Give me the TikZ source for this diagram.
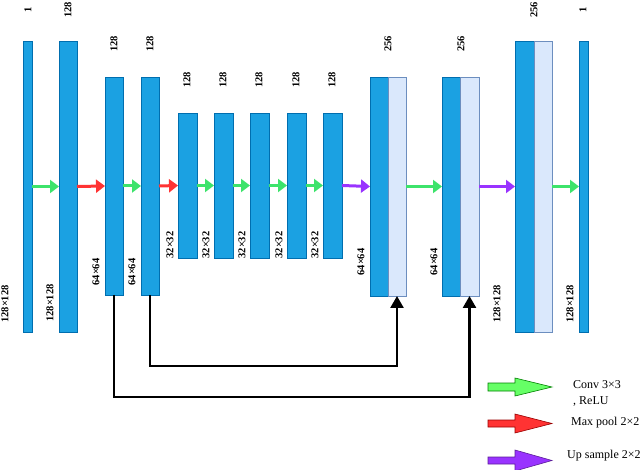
\documentclass[tikz,border=0pt]{standalone}
\usepackage{fontspec}
\setmainfont{Liberation Serif}
\usetikzlibrary{arrows.meta}
\definecolor{barblue}{HTML}{1BA1E2}
\definecolor{barline}{HTML}{006EAF}
\definecolor{lightfill}{HTML}{DAE8FC}
\definecolor{lightline}{HTML}{6C8EBF}
\definecolor{convgreen}{HTML}{3DE36B}
\definecolor{poolred}{HTML}{FF3333}
\definecolor{uppurple}{HTML}{9933FF}
\definecolor{lgreen}{HTML}{66FF66}
\begin{document}
\begin{tikzpicture}[x=1pt,y=-1pt,
  bar/.style={draw=barline,fill=barblue,line width=0.8pt,inner sep=0pt,outer sep=0pt,anchor=north west},
  halfbar/.style={draw=lightline,fill=lightfill,line width=0.8pt,inner sep=0pt,outer sep=0pt,anchor=north west},
  lab/.style={rotate=90,font=\bfseries\fontsize{10.5}{11}\selectfont,inner sep=0pt},
  flow/.style={line width=3pt,-{Triangle[length=9pt,width=13pt]}},
  conv/.style={flow,draw=convgreen},
  pool/.style={flow,draw=poolred},
  up/.style={flow,draw=uppurple},
  skip/.style={line width=2.5pt,-{Triangle[length=12pt,width=13pt]}},
  legtext/.style={font=\fontsize{12}{13}\selectfont,anchor=west,inner sep=0pt}
]
\useasboundingbox (0,0) rectangle (640,470);
% bars
\node[bar,minimum width=9pt,minimum height=291pt] (b1) at (23,41) {};
\node[bar,minimum width=18pt,minimum height=291pt] (b2) at (59,41) {};
\node[bar,minimum width=18pt,minimum height=218pt] (b3) at (105,77) {};
\node[bar,minimum width=18pt,minimum height=218pt] (b4) at (141,77) {};
\node[bar,minimum width=19pt,minimum height=145pt] (b5) at (178,113) {};
\node[bar,minimum width=19pt,minimum height=145pt] (b6) at (214,113) {};
\node[bar,minimum width=19pt,minimum height=145pt] (b7) at (250,113) {};
\node[bar,minimum width=19pt,minimum height=145pt] (b8) at (287,113) {};
\node[bar,minimum width=19pt,minimum height=145pt] (b9) at (323,113) {};
\node[bar,minimum width=18pt,minimum height=219pt] (b10a) at (370,77) {};
\node[halfbar,minimum width=18pt,minimum height=219pt] (b10b) at (388,77) {};
\node[bar,minimum width=18pt,minimum height=219pt] (b11a) at (442,77) {};
\node[halfbar,minimum width=19pt,minimum height=219pt] (b11b) at (460,77) {};
\node[bar,minimum width=19pt,minimum height=291pt] (b12a) at (515,41) {};
\node[halfbar,minimum width=18pt,minimum height=291pt] (b12b) at (534,41) {};
\node[bar,minimum width=9pt,minimum height=291pt] (b13) at (579,41) {};
% top labels
\node[lab] (t1) at (28,10) {1};
\node[lab] (t2) at (68,10) {128};
\node[lab] (t3) at (114,44) {128};
\node[lab] (t4) at (150,44) {128};
\node[lab] (t5) at (187,80) {128};
\node[lab] (t6) at (223,80) {128};
\node[lab] (t7) at (259,80) {128};
\node[lab] (t8) at (296,80) {128};
\node[lab] (t9) at (332,80) {128};
\node[lab] (t10) at (388,44) {256};
\node[lab] (t11) at (461,44) {256};
\node[lab] (t12) at (534,10) {256};
\node[lab] (t13) at (583,10) {1};
% bottom labels
\node[lab] (s1) at (5,304) {128×128};
\node[lab] (s2) at (50,303) {128×128};
\node[lab] (s3) at (96,272) {64×64};
\node[lab] (s4) at (132,272) {64×64};
\node[lab] (s5) at (170,245) {32×32};
\node[lab] (s6) at (206,245) {32×32};
\node[lab] (s7) at (242,245) {32×32};
\node[lab] (s8) at (279,245) {32×32};
\node[lab] (s9) at (315,245) {32×32};
\node[lab] (s10) at (361,262) {64×64};
\node[lab] (s11) at (434,262) {64×64};
\node[lab] (s12) at (497,304) {128×128};
\node[lab] (s13) at (570,304) {128×128};
% flow arrows
\draw[conv] (b1.east) -- (b2.west);
\draw[pool] (b2.east) -- (b3.west);
\draw[conv] (b3.east) -- (b4.west);
\draw[pool] (b4.east) -- (b5.west);
\draw[conv] (b5.east) -- (b6.west);
\draw[conv] (b6.east) -- (b7.west);
\draw[conv] (b7.east) -- (b8.west);
\draw[conv] (b8.east) -- (b9.west);
\draw[up] (b9.east) -- (b10a.west);
\draw[conv] (b10b.east) -- (b11a.west);
\draw[up] (b11b.east) -- (b12a.west);
\draw[conv] (b12b.east) -- (b13.west);
% skip connections
\draw[skip] (b3.south) -- ++(0,102) -| (b11b.south);
\draw[skip] (b4.south) -- ++(0,71) -| (b10b.south);
% legend
\draw[draw=green!50!black,fill=lgreen,line width=0.6pt] (488,383) -- (515,383) -- (515,378) -- (552,387) -- (515,396) -- (515,391) -- (488,391) -- cycle;
\draw[draw=red!60!black,fill=poolred,line width=0.6pt] (488,420) -- (515,420) -- (515,414) -- (552,423.5) -- (515,433) -- (515,427) -- (488,427) -- cycle;
\draw[draw=uppurple!60!black,fill=uppurple,line width=0.6pt] (488,457) -- (515,457) -- (515,450) -- (552,460.5) -- (515,471) -- (515,464) -- (488,464) -- cycle;
\node[legtext] (l1) at (573,385) {Conv 3×3};
\node[legtext] (l1b) at (573,401) {, ReLU};
\node[legtext] (l2) at (571,423) {Max pool 2×2};
\node[legtext] (l3) at (567,456) {Up sample 2×2};
\end{tikzpicture}
\end{document}
